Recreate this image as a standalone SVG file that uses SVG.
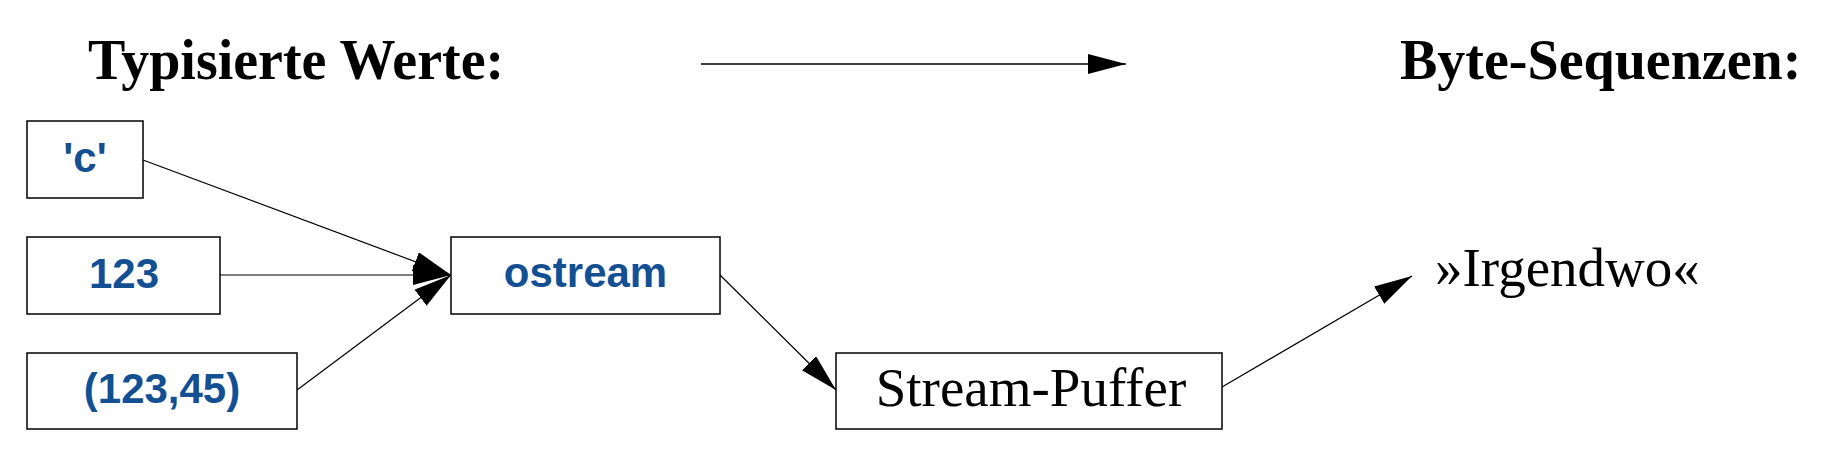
<svg xmlns="http://www.w3.org/2000/svg" width="1824" height="454" viewBox="0 0 1824 454">
  <style>
    .box { fill: #ffffff; stroke: #000000; stroke-width: 1.5; }
    .val { font-family: "Liberation Sans", Arial, sans-serif; font-weight: bold; font-size: 42px; fill: #134f91; text-anchor: middle; }
    .serif { font-family: "Liberation Serif", "Times New Roman", serif; font-size: 55px; fill: #000000; }
    .title { font-family: "Liberation Serif", "Times New Roman", serif; font-weight: bold; font-size: 56px; fill: #000000; }
    .conn { stroke: #000000; stroke-width: 1.2; fill: none; marker-end: url(#head); }
  </style>
  <defs>
    <marker id="head" markerUnits="userSpaceOnUse" markerWidth="40" markerHeight="22" refX="38" refY="10" orient="auto" viewBox="0 0 40 22">
      <path d="M0,0 L38,10 L0,20 z" fill="#000000"/>
    </marker>
  </defs>
  <rect width="1824" height="454" fill="#ffffff"/>

  <g id="title-left">
    <text class="title" x="88" y="79">Typisierte Werte:</text>
  </g>
  <g id="title-right">
    <text class="title" x="1400" y="79">Byte-Sequenzen:</text>
  </g>

  <g id="connectors">
    <line x1="701" y1="64" x2="1126" y2="64" stroke="#000000" stroke-width="1.6" marker-end="url(#head)"/>
    <line class="conn" x1="143" y1="160" x2="451" y2="275"/>
    <line class="conn" x1="220" y1="275" x2="451" y2="275"/>
    <line class="conn" x1="297" y1="390" x2="451" y2="275"/>
    <line class="conn" x1="720" y1="275" x2="836" y2="390"/>
    <line class="conn" x1="1222" y1="387" x2="1412" y2="276"/>
  </g>

  <g id="node-c">
    <rect class="box" x="27" y="121" width="116" height="77"/>
    <text class="val" x="85" y="172">'c'</text>
  </g>
  <g id="node-123">
    <rect class="box" x="27" y="237" width="193" height="77"/>
    <text class="val" x="124" y="288">123</text>
  </g>
  <g id="node-pair">
    <rect class="box" x="27" y="353" width="270" height="76"/>
    <text class="val" x="162" y="403">(123,45)</text>
  </g>
  <g id="node-ostream">
    <rect class="box" x="451" y="237" width="269" height="77"/>
    <text class="val" x="585.5" y="287">ostream</text>
  </g>
  <g id="node-streampuffer">
    <rect class="box" x="836" y="353" width="386" height="76"/>
    <text class="serif" x="1031" y="406" text-anchor="middle">Stream-Puffer</text>
  </g>
  <g id="node-irgendwo">
    <text class="serif" x="1435" y="286">»Irgendwo«</text>
  </g>
</svg>
